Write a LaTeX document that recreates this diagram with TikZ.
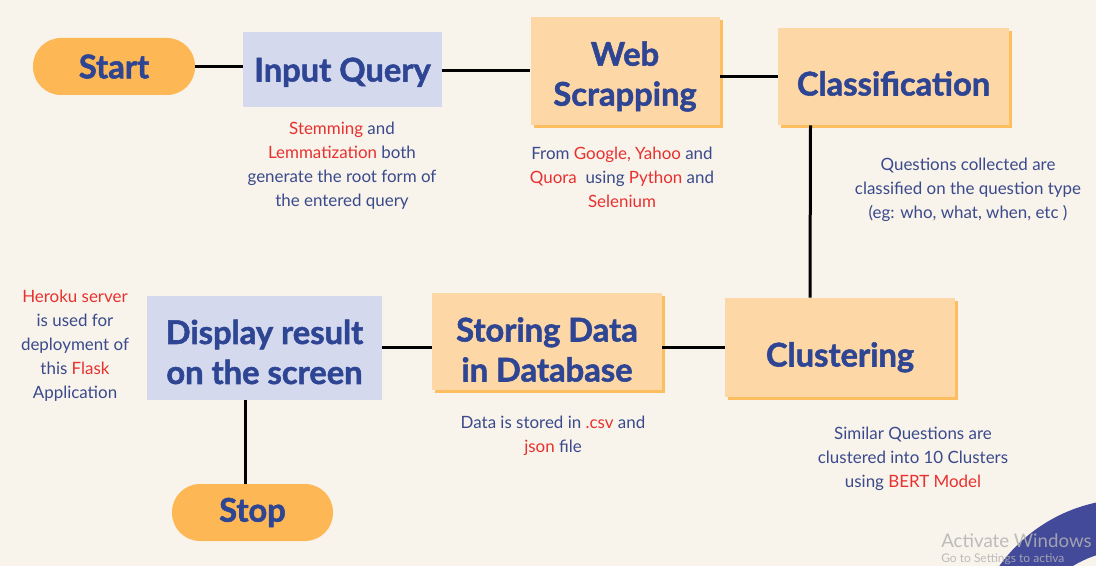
\documentclass[tikz,border=0pt]{standalone}
\usepackage{fontspec}
\setmainfont{Lato}
\newfontfamily\titlefont[BoldFeatures={FakeBold=1.6}]{Lato}
\usetikzlibrary{shadows}
\definecolor{bg}{HTML}{F8F3EB}
\definecolor{titleblue}{HTML}{2E4593}
\definecolor{bodyblue}{HTML}{3A4A8C}
\definecolor{redtxt}{HTML}{E8312F}
\definecolor{pill}{HTML}{FDB855}
\definecolor{boxorange}{HTML}{FDD7A6}
\definecolor{shadoworange}{HTML}{FCBE5E}
\definecolor{lavender}{HTML}{D4D9EE}
\definecolor{winblue}{HTML}{434A9A}
\newcommand{\rd}[1]{\textcolor{redtxt}{#1}}
\newcommand{\ttl}[2]{\raisebox{#1}[\height][\depth]{\begin{tabular}{@{}c@{}}#2\end{tabular}}}
\tikzset{
  titlefontstyle/.style={font=\titlefont\fontsize{24.5}{30}\selectfont\bfseries},
  pillnode/.style={fill=pill, rounded corners=21pt, inner sep=0pt, text=titleblue, titlefontstyle},
  procbox/.style={fill=boxorange, inner sep=0pt, align=center, text=titleblue, titlefontstyle,
     drop shadow={shadow xshift=2.6pt, shadow yshift=-2.6pt, fill=shadoworange, opacity=1}},
  lavbox/.style={fill=lavender, inner sep=0pt, align=center, text=titleblue, titlefontstyle},
  desc/.style={text=bodyblue, font=\fontsize{12.7}{18}\selectfont, align=center, inner sep=0pt},
  conn/.style={line width=2.25pt, black},
}
\renewcommand{\arraystretch}{1}
\begin{document}
\begin{tikzpicture}[x=0.75pt, y=-0.75pt]
\useasboundingbox (0,0) rectangle (1096,566);
\clip (0,0) rectangle (1096,566);
\fill[bg] (0,0) rectangle (1096,566);
% watermark circle
\fill[winblue, even odd rule] (1130,660) circle[radius=161] (1130,660) circle[radius=110];
% nodes
\node[pillnode, minimum width=121.5pt, minimum height=42.75pt] (start) at (114,66.5) {Start};
\node[lavbox, minimum width=149.25pt, minimum height=56.25pt] (input) at (342.5,69.5) {\ttl{-3pt}{Input Query}};
\node[procbox, minimum width=141.75pt, minimum height=81pt] (web) at (625,71) {\ttl{-5pt}{Web\\Scrapping}};
\node[procbox, minimum width=173.25pt, minimum height=72.75pt] (class) at (893.5,76.5) {\ttl{-8.25pt}{Classification}};
\node[procbox, minimum width=172.5pt, minimum height=74.25pt] (clust) at (840,347.5) {\ttl{-8.25pt}{Clustering}};
\node[procbox, minimum width=172.5pt, minimum height=72.75pt] (stor) at (547,341.5) {\ttl{-9pt}{Storing Data\\in Database}};
\node[lavbox, minimum width=176.25pt, minimum height=78pt] (disp) at (264.5,348) {\ttl{-6pt}{Display result\\on the screen}};
\node[pillnode, minimum width=120.75pt, minimum height=42.75pt] (stop) at (252.5,512.5) {Stop};
% connectors
\draw[conn] (start.east) -- (start.east -| input.west);
\draw[conn] (input.east |- web.west) -- (web.west);
\draw[conn] (web.east |- class.west) -- (class.west);
\draw[conn] ([xshift=-62.25pt]class.south) -- ([xshift=-22.5pt]clust.north);
\draw[conn] (clust.west) -- (clust.west -| stor.east);
\draw[conn] (disp.east) -- (disp.east -| stor.west);
\draw[conn] ([xshift=-14.6pt]disp.south) -- ([xshift=-5.6pt]stop.north);
% descriptions
\node[desc] (d1) at (342,166) {\rd{Stemming} and\\\rd{Lemmatization} both\\generate the root form of\\the entered query};
\node[desc] (d2) at (622,177) {From \rd{Google, Yahoo} and\\\rd{Quora}\ \ using \rd{Python} and\\\rd{Selenium}};
\node[desc] (d3) at (968,189.5) {Questions collected are\\classified on the question type\\(eg: who, what, when, etc )};
\node[desc] (d4) at (75,345.5) {\rd{Heroku server}\\is used for\\deployment of\\this \rd{Flask}\\Application};
\node[desc] (d5) at (553,436) {Data is stored in \rd{.csv} and\\\rd{json} file};
\node[desc] (d6) at (913,459) {Similar Questions are\\clustered into 10 Clusters\\using \rd{BERT Model}};
% watermark text
\node[anchor=base west, inner sep=0pt, text=gray!60, opacity=0.85, font=\fontsize{14}{16}\selectfont] (wm1) at (941,547) {Activate Windows};
\node[anchor=base west, inner sep=0pt, text=gray!60, opacity=0.85, font=\fontsize{9}{11}\selectfont] (wm2) at (941,562) {Go to Settings to activa};
\end{tikzpicture}
\end{document}
